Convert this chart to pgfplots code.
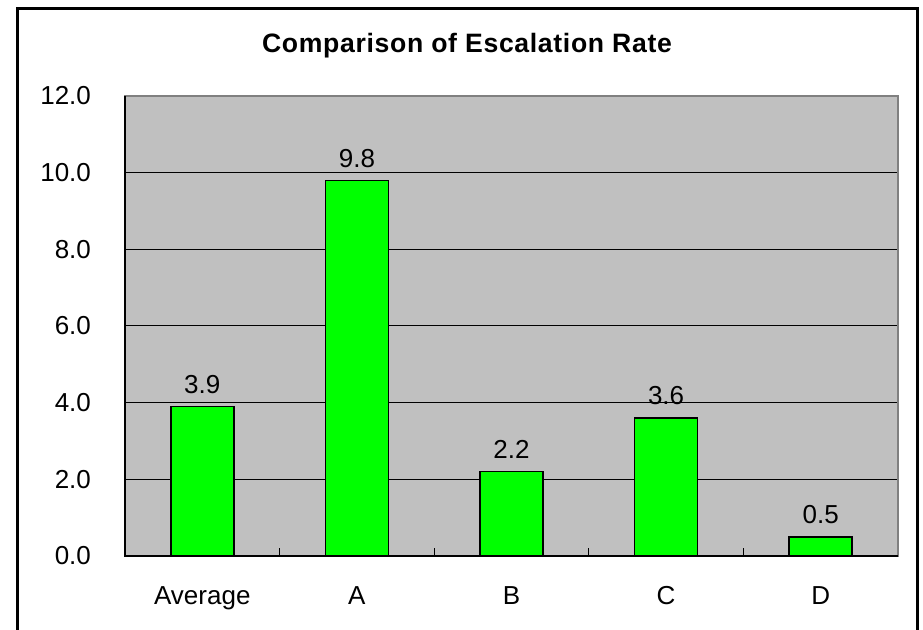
\documentclass[border=0pt]{standalone}
\usepackage{pgfplots}
\pgfplotsset{compat=1.18}
\usepackage{fontspec}
\setmainfont{Liberation Sans}

\definecolor{plotgray}{HTML}{C0C0C0}
\definecolor{edgegray}{HTML}{808080}
\definecolor{bargreen}{HTML}{00FF00}

\newcommand{\chartfont}{\fontsize{13}{15.5}\selectfont}

\begin{document}
\begin{tikzpicture}[x=1pt,y=1pt]
  \useasboundingbox (0,0) rectangle (461.5,315);
  % outer frame
  \draw[line width=1.5pt] (8.75,-3) rectangle (458.75,310.75);
  % title
  \node[anchor=base, font=\fontsize{13.3}{16}\selectfont\bfseries\addfontfeature{LetterSpace=2.5}]
    at (233.5,288.5) {Comparison\ of\ Escalation\ Rate};

  \begin{axis}[
    at={(62.5pt,37pt)}, anchor=south west,
    scale only axis, width=386.5pt, height=230pt,
    xmin=-0.5, xmax=4.5, ymin=0, ymax=12,
    axis background/.style={fill=plotgray},
    axis line style={draw=edgegray, line width=0.8pt},
    tick pos=left,
    ytick={0,2,...,12},
    yticklabel style={/pgf/number format/fixed, /pgf/number format/fixed zerofill,
      /pgf/number format/precision=1, xshift=-13.5pt},
    /pgf/number format/assume math mode=true,
    ymajorgrids, major grid style={black, line width=0.5pt},
    xtick={0,...,4},
    xticklabels={Average,A,B,C,D},
    minor xtick={-0.5,0.5,...,4.5},
    tick align=inside,
    major tick length=4pt, minor tick length=4pt,
    x tick style={draw=none},
    minor x tick style={draw=black, line width=0.5pt},
    y tick style={black, line width=0.5pt},
    ticklabel style={font=\chartfont},
    xticklabel style={anchor=base, yshift=-24.5pt},
    clip=false,
  ]
    \addplot[ybar, bar width=31.5pt, fill=bargreen, draw=black, line width=0.8pt,
      nodes near coords={\pgfmathprintnumber[fixed,fixed zerofill,precision=1]{\pgfplotspointmeta}},
      every node near coord/.style={anchor=base, font=\chartfont, yshift=6.5pt, inner sep=0pt}]
      coordinates {(0,3.9) (1,9.8) (2,2.2) (3,3.6) (4,0.5)};
    % left and bottom axis lines in black
    \draw[black, line width=0.8pt] (rel axis cs:0,1) -- (rel axis cs:0,0) -- (rel axis cs:1,0);
  \end{axis}
\end{tikzpicture}
\end{document}
